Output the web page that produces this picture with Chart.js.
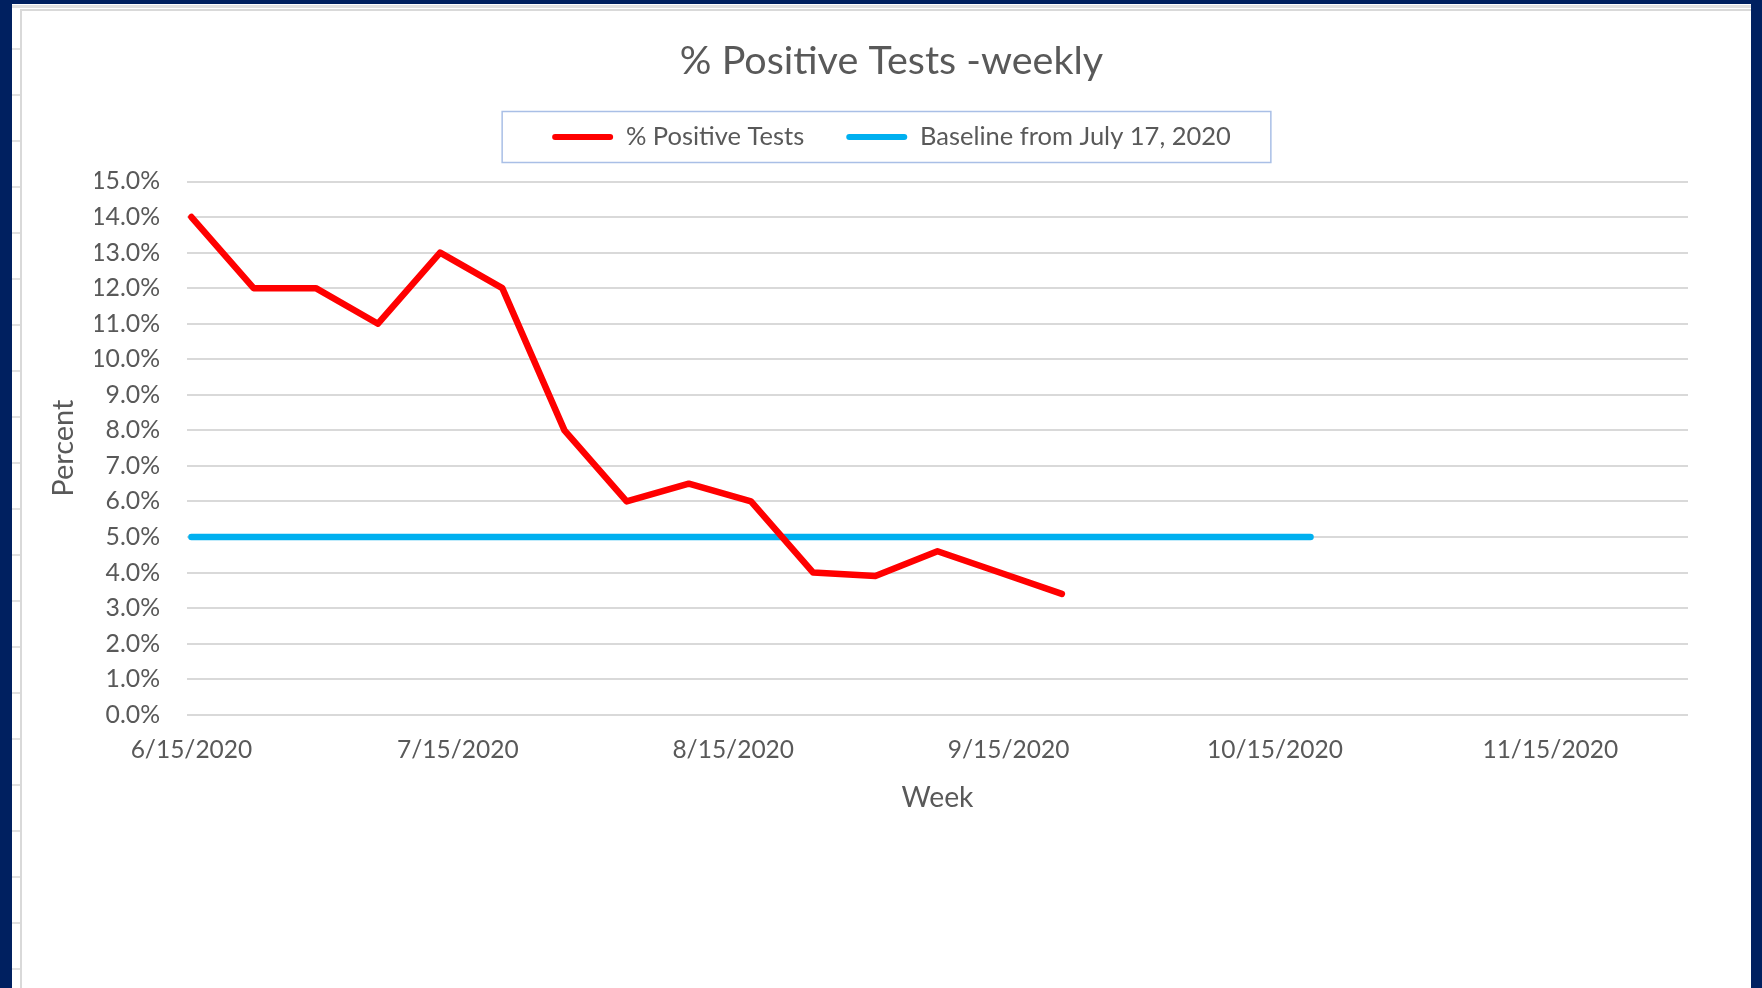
<!DOCTYPE html>
<html>
<head>
<meta charset="utf-8">
<title>% Positive Tests -weekly</title>
<script src="https://cdn.jsdelivr.net/npm/chart.js@4.4.1/dist/chart.umd.min.js"></script>
<style>
  html, body { margin: 0; padding: 0; }
  body { width: 1762px; height: 988px; background: #002060; position: relative; overflow: hidden; }
  /* bits of the spreadsheet showing round the chart */
  #sheet {
    position: absolute; left: 12px; top: 4px; width: 1739px; height: 984px;
    background-color: #fff;
    background-image: linear-gradient(#e1e1e1, #e1e1e1),
      repeating-linear-gradient(to bottom, transparent 0 44px, #e1e1e1 44px 46px);
    background-size: 100% 3px, 8px 100%;
    background-position: 0 1px, 0 0;
    background-repeat: no-repeat;
  }
  #wrap {
    position: absolute; left: 20px; top: 9px; width: 1731px; height: 979px;
    box-sizing: border-box; background: #fff;
    border-left: 2px solid #d9d9d9; border-top: 2px solid #d9d9d9;
  }
  #box { position: relative; width: 1729px; height: 977px; }
</style>
</head>
<body>
<div id="sheet"></div>
<div id="wrap">
  <div id="box"><canvas id="positiveChart"></canvas></div>
</div>
<script>
  // Semanas (segunda-feira de cada semana)
  const weeks = ['6/15/2020', '6/22/2020', '6/29/2020', '7/6/2020', '7/13/2020', '7/20/2020',
    '7/27/2020', '8/3/2020', '8/10/2020', '8/17/2020', '8/24/2020', '8/31/2020', '9/7/2020',
    '9/14/2020', '9/21/2020', '9/28/2020', '10/5/2020', '10/12/2020', '10/19/2020'];

  // % de testes positivos por semana
  const positiveTests = [14.0, 12.0, 12.0, 11.0, 13.0, 12.0, 8.0, 6.0, 6.5, 6.0, 4.0, 3.9, 4.6, 4.0, 3.4];

  // Linha de base a partir de 17 de julho
  const baseline = [5.0, 5.0, 5.0, 5.0, 5.0, 5.0, 5.0, 5.0, 5.0, 5.0, 5.0, 5.0, 5.0, 5.0, 5.0,
    5.0, 5.0, 5.0, 5.0];

  // Rótulos do eixo das datas
  const dateTicks = ['6/15/2020', '7/15/2020', '8/15/2020', '9/15/2020', '10/15/2020', '11/15/2020'];

  const DAY = 86400000;
  const toDay = s => {
    const [m, d, y] = s.split('/').map(Number);
    return Date.UTC(y, m - 1, d) / DAY;
  };
  const fmtDay = v => {
    const dt = new Date(Math.round(v) * DAY);
    return (dt.getUTCMonth() + 1) + '/' + dt.getUTCDate() + '/' + dt.getUTCFullYear();
  };

  const textColor = '#595959';
  Chart.defaults.font.family = 'Lato, sans-serif';
  Chart.defaults.color = textColor;

  // Moldura da legenda (como no Excel) e espaço entre legenda e gráfico
  const legendFrame = {
    id: 'legendFrame',
    beforeInit(chart) {
      const legend = chart.legend;
      if (!legend) return;
      const fit = legend.fit;
      legend.fit = function () {
        fit.call(this);
        this.height += 21.75;
      };
    },
    afterDraw(chart) {
      const boxes = chart.legend && chart.legend.legendHitBoxes;
      if (!boxes || !boxes.length) return;
      const first = boxes[0];
      const last = boxes[boxes.length - 1];
      const cy = first.top + first.height / 2;
      const left = first.left - 50;
      const right = last.left + last.width + 40;
      const ctx = chart.ctx;
      ctx.save();
      ctx.strokeStyle = '#a9bfe6';
      ctx.lineWidth = 1.5;
      ctx.strokeRect(left, cy - 25.5, right - left, 51);
      ctx.restore();
    }
  };

  const positiveData = {
    datasets: [{
      label: '% Positive Tests',
      data: positiveTests.map((v, i) => ({ x: toDay(weeks[i]), y: v })),
      borderColor: '#ff0000',
      backgroundColor: '#ff0000',
      borderWidth: 6.5,
      pointRadius: 0,
      borderCapStyle: 'round',
      borderJoinStyle: 'round',
      tension: 0
    }, {
      label: 'Baseline from July 17, 2020',
      data: baseline.map((v, i) => ({ x: toDay(weeks[i]), y: v })),
      borderColor: '#00b0f0',
      backgroundColor: '#00b0f0',
      borderWidth: 6.5,
      pointRadius: 0,
      borderCapStyle: 'round',
      borderJoinStyle: 'round',
      tension: 0
    }]
  };

  const positiveConfig = {
    type: 'line',
    data: positiveData,
    options: {
      responsive: true,
      maintainAspectRatio: false,
      animation: false,
      layout: { padding: { top: 0, left: 73, right: 63, bottom: 173.5 } },
      plugins: {
        title: {
          display: true,
          text: '% Positive Tests -weekly',
          color: textColor,
          font: { size: 39.5, weight: 'normal' },
          padding: { top: 26.3, bottom: -2.45 }
        },
        legend: {
          position: 'top',
          labels: {
            boxWidth: 61,
            boxHeight: 6,
            padding: 42,
            color: textColor,
            font: { size: 25.5 },
            generateLabels: chart => chart.data.datasets.map((ds, i) => ({
              text: ds.label,
              fillStyle: ds.borderColor,
              strokeStyle: ds.borderColor,
              lineWidth: 0,
              borderRadius: 3,
              fontColor: textColor,
              hidden: false,
              datasetIndex: i
            }))
          }
        },
        tooltip: { enabled: false }
      },
      scales: {
        x: {
          type: 'linear',
          min: toDay(weeks[0]) - 0.5,
          max: toDay('11/30/2020') + 0.5,
          grid: { display: false, drawTicks: false },
          border: { display: false },
          afterBuildTicks: scale => {
            scale.ticks = dateTicks.map(s => ({ value: toDay(s) }));
          },
          ticks: {
            padding: 20.3,
            color: textColor,
            font: { size: 24.5 },
            maxRotation: 0,
            autoSkip: false,
            callback: v => fmtDay(v)
          },
          title: {
            display: true,
            text: 'Week',
            color: textColor,
            font: { size: 28.3 },
            padding: { top: -4.2, bottom: 0 }
          }
        },
        y: {
          min: 0,
          max: 15,
          grid: { color: '#d9d9d9', lineWidth: 2, drawTicks: false },
          border: { display: false },
          ticks: {
            stepSize: 1,
            padding: 27,
            color: textColor,
            font: { size: 24.8 },
            callback: v => v.toFixed(1) + '%'
          },
          title: {
            display: true,
            text: 'Percent',
            color: textColor,
            font: { size: 29 },
            padding: { top: -48.4, bottom: 0 }
          },
          afterFit: scale => { scale.width = 92; }
        }
      }
    },
    plugins: [legendFrame]
  };

  const positiveCanvas = document.getElementById('positiveChart');
  new Chart(positiveCanvas, positiveConfig);
</script>
</body>
</html>
